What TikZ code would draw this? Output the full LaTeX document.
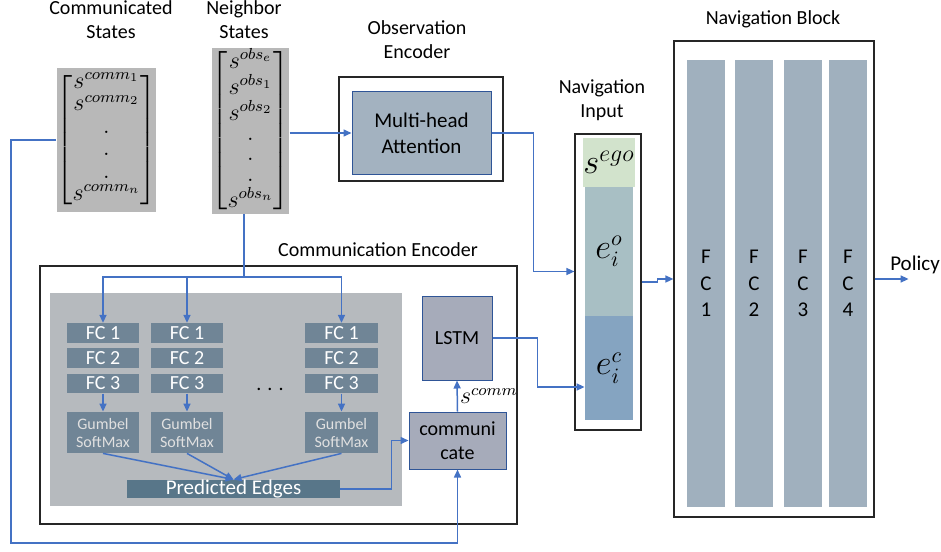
\documentclass[tikz,border=0pt]{standalone}
\usepackage{amsmath}
\usepackage{fontspec}
\setmainfont{Carlito}
\usetikzlibrary{arrows.meta, positioning, calc}
\definecolor{LinkBlue}{RGB}{68,114,196}
\definecolor{EdgeBlue}{RGB}{47,85,151}
\definecolor{StateGray}{RGB}{184,184,184}
\definecolor{PanelGray}{RGB}{182,186,190}
\definecolor{LayerSlate}{RGB}{112,133,150}
\definecolor{EdgeSlate}{RGB}{88,118,137}
\definecolor{AttnBlue}{RGB}{163,178,192}
\definecolor{CellBlue}{RGB}{166,171,186}
\definecolor{EgoGreen}{RGB}{210,227,204}
\definecolor{ObsTeal}{RGB}{168,191,196}
\definecolor{CommBlue}{RGB}{133,164,193}
\definecolor{NavSlate}{RGB}{160,176,190}

\tikzset{
	sz/.style 2 args={minimum width=#1*0.5pt, minimum height=#2*0.5pt, inner sep=0pt},
	encbox/.style={draw=black!85, line width=0.6pt},
	flow/.style={draw=LinkBlue, line width=0.75pt, -{Triangle[length=4pt, width=3.5pt]}},
	link/.style={draw=LinkBlue, line width=0.75pt},
	heading/.style={align=center, font=\fontsize{10}{12}\selectfont},
	fcbox/.style={fill=LayerSlate, text=white, font=\fontsize{10}{12}\selectfont},
	gbox/.style={fill=LayerSlate, text=white!88!black, align=center, font=\fontsize{8}{9}\selectfont},
	cell/.style={fill=CellBlue, draw=EdgeBlue, line width=0.5pt, align=center, font=\fontsize{10}{12}\selectfont},
	statebox/.style={fill=StateGray, inner sep=1.5pt},
	navcol/.style={fill=NavSlate, align=center, font=\fontsize{10.5}{13.25}\selectfont},
}

\begin{document}
\begin{tikzpicture}[x=0.5pt, y=-0.5pt]
	\useasboundingbox (0,0) rectangle (941,551);

	% headings
	\node[heading] (tcomm) at (111,20) {Communicated\\States};
	\node[heading] (tnbr) at (244,20) {Neighbor\\States};
	\node[heading] (tobs) at (417,40) {Observation\\Encoder};
	\node[heading] (tnin) at (602,100) {Navigation\\Input};
	\node[heading] (tnav) at (773,19) {Navigation Block};
	\node[heading] (tenc) at (378,250) {Communication Encoder};

	% state vectors
	\node[statebox, sz={99}{144}, font=\fontsize{12}{14}\selectfont] (comm) at (106.5,140)
		{$\renewcommand{\arraystretch}{0.8}\setlength{\arraycolsep}{1pt}
		\begin{bmatrix} s^{comm_1}\\ s^{comm_2}\\ .\\ .\\ .\\ s^{comm_n}\end{bmatrix}$};
	\node[statebox, sz={73}{166}, font=\fontsize{11.5}{13}\selectfont] (nbr) at (250.5,131)
		{$\renewcommand{\arraystretch}{0.78}\setlength{\arraycolsep}{1pt}
		\begin{bmatrix} s^{obs_e}\\ s^{obs_1}\\ s^{obs_2}\\ .\\ .\\ .\\ s^{obs_n}\end{bmatrix}$};

	% observation encoder
	\node[encbox, sz={164}{104}] (obsenc) at (421,129) {};
	\node[cell, fill=AttnBlue, sz={139}{82}, font=\fontsize{10.5}{13}\selectfont] (mha) at (421.5,133) {Multi-head\\Attention};

	% communication encoder
	\node[encbox, sz={477}{258}] (commenc) at (278.5,395) {};
	\node[fill=PanelGray, sz={352}{213}] (panel) at (226,399.5) {};
	\node[cell, sz={70}{84}] (lstm) at (457,338) {LSTM};
	\node[cell, sz={97}{57}] (cmt) at (457.5,440.5) {communi\\cate};
	\node[fill=EdgeSlate, text=white, sz={213}{18}, font=\fontsize{10.5}{12}\selectfont] (pe) at (233.5,489) {Predicted Edges};
	\node[font=\fontsize{10}{12}\selectfont] (dots) at (270,389) {. . .};

	\coordinate (split) at (244,277);
	\draw[link] (nbr.south -| split) -- (split);
	\foreach \x/\w [count=\i] in {103/72, 187/72, 341.5/73}{
		\node[fcbox, sz={\w}{19.5}] (fca\i) at (\x,333) {FC 1};
		\node[fcbox, sz={\w}{19.5}] (fcb\i) at (\x,358) {FC 2};
		\node[fcbox, sz={\w}{19.5}] (fcc\i) at (\x,383.5) {FC 3};
		\node[gbox, sz={\w}{41}] (gb\i) at (\x,432.5) {Gumbel\\SoftMax};
		\draw[flow] (split) -| (fca\i.north);
		\draw[flow] (fcc\i.south) -- (gb\i.north);
		\draw[flow] (gb\i.south) -- (pe.north);
	}

	% navigation input
	\node[encbox, sz={66}{296}] (nin) at (608,282) {};
	\node[fill=EgoGreen, sz={48}{49}, font=\fontsize{17}{20}\selectfont] (sego) at (609,162.5) {$s^{ego}$};
	\node[fill=ObsTeal, sz={48}{129}, font=\fontsize{16}{19}\selectfont] (eio) at (609,251.5) {$e_i^o$};
	\node[fill=CommBlue, sz={48}{104}, font=\fontsize{16}{19}\selectfont] (eic) at (609,368) {$e_i^c$};

	% navigation block
	\node[encbox, sz={200}{476}] (nav) at (774,279) {};
	\foreach \x [count=\i] in {706,754,803,848}
		\node[navcol, sz={38}{447}] (fc\i) at (\x,283.5) {F\\C\\\i};
	\node[font=\fontsize{10.5}{12}\selectfont] (policy) at (915,265) {Policy};

	% connectors
	\coordinate (inO) at ([yshift=-10pt]eio.west);
	\coordinate (inC) at ([yshift=-9.5pt]eic.west);
	\draw[flow] (nbr.east |- mha.west) -- (mha.west);
	\draw[flow] (mha.east) -- ++(42,0) |- (inO -| nin.west);
	\draw[flow] (lstm.east) -- ++(45,0) |- (inC);
	\draw[flow] (nin.east) -- ++(16,0) |- (nav.west);
	\draw[flow] (nav.east) -- ++(34,0) coordinate (pol);
	\draw[flow] (pe.east) -- ++(51,0) |- (cmt.west);
	\draw[flow] (cmt.north) -- node[right, inner sep=1pt, font=\fontsize{12}{14}\selectfont] {$s^{comm}$} (lstm.south);
	\draw[flow] (comm.west) -- ++(-45,0) -- ++(0,403) -| (cmt.south);
\end{tikzpicture}
\end{document}
